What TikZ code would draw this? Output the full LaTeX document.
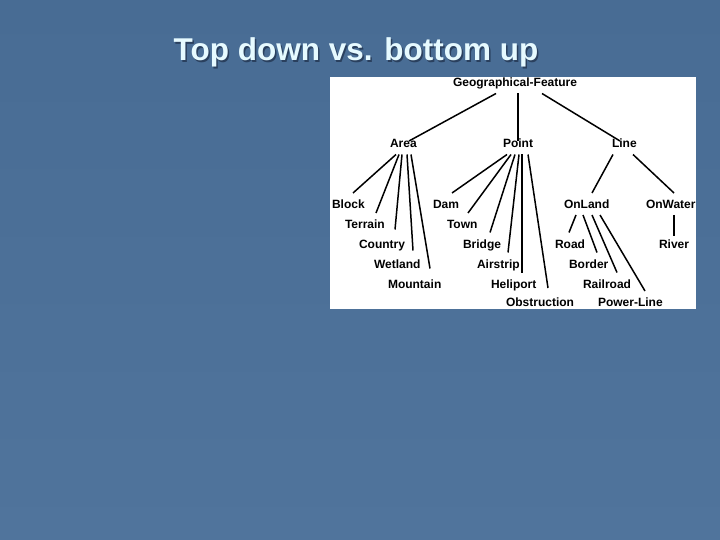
\documentclass[tikz,border=0pt]{standalone}
\usepackage{fontspec}
\setmainfont{Liberation Sans}
\usepackage{xcolor}
\definecolor{Back1}{RGB}{72,108,148}
\definecolor{Back2}{RGB}{80,116,156}
\definecolor{TitleCol}{RGB}{230,250,255}
\definecolor{ShadowCol}{RGB}{42,64,94}
\usepackage{tikz}
\tikzstyle{Leaf}=[anchor=base west,inner xsep=0pt,inner ysep=0pt,outer xsep=0pt,
outer ysep=6.5pt,text height=9pt,text depth=0pt,font=\bfseries\fontsize{12}{14}\selectfont]
\tikzstyle{Edge}=[draw=black,line width=1.5pt]
\tikzstyle{TitleText}=[anchor=base,inner sep=0pt,font=\bfseries\fontsize{31.5}{36}\selectfont]

\begin{document}
\begin{tikzpicture}[x=1pt,y=-1pt]
        \useasboundingbox(0,0)rectangle(720,540);
        \shade[top color=Back1,bottom color=Back2](0,0)rectangle(720,540);
        % title
        \node[TitleText,text=ShadowCol](shadow)at(357.5,62.5){Top down vs. bottom up};
        \node[TitleText,text=TitleCol](title)at(356,61){Top down vs. bottom up};
        % panel
        \fill[white](330,77)rectangle(696,308.5);
        \node[Leaf](gf)at(453,87){Geographical-Feature};
        \node[Leaf](area)at(390,148){Area};
        \node[Leaf](point)at(503,148){Point};
        \node[Leaf](line)at(612,148){Line};
        \node[Leaf](block)at(332,208.5){Block};
        \node[Leaf](terrain)at(345,228.5){Terrain};
        \node[Leaf](country)at(359,248){Country};
        \node[Leaf](wetland)at(374,268){Wetland};
        \node[Leaf](mountain)at(388,288){Mountain};
        \node[Leaf](dam)at(433,208.5){Dam};
        \node[Leaf](town)at(447,228.5){Town};
        \node[Leaf](bridge)at(463,248){Bridge};
        \node[Leaf](airstrip)at(477,268){Airstrip};
        \node[Leaf](heliport)at(491,288){Heliport};
        \node[Leaf](obstruction)at(506,306.5){Obstruction};
        \node[Leaf](onland)at(564,208.5){OnLand};
        \node[Leaf](onwater)at(646,208.5){OnWater};
        \node[Leaf](road)at(555,248){Road};
        \node[Leaf](border)at(569,268){Border};
        \node[Leaf](railroad)at(583,288){Railroad};
        \node[Leaf](powerline)at(598,306.5){Power-Line};
        \node[Leaf](river)at(659,248){River};
        % first level
        \draw[Edge]([xshift=43pt]gf.south west)--([xshift=19pt,yshift=-8.5pt]area.north west);
        \draw[Edge]([xshift=65pt]gf.south west)--([xshift=15pt,yshift=-8.5pt]point.north west);
        \draw[Edge]([xshift=89pt]gf.south west)--([xshift=8pt,yshift=-8.5pt]line.north west);
        % area
        \draw[Edge]([xshift=6pt]area.south west)--([xshift=21pt]block.north west);
        \draw[Edge]([xshift=9pt]area.south west)--([xshift=31pt]terrain.north west);
        \draw[Edge]([xshift=12pt]area.south west)--([xshift=36pt,yshift=3pt]country.north west);
        \draw[Edge]([xshift=17pt]area.south west)--([xshift=39pt,yshift=2pt]wetland.north west);
        \draw[Edge]([xshift=21pt]area.south west)--([xshift=42pt,yshift=4pt]mountain.north west);
        % point
        \draw[Edge]([xshift=4pt]point.south west)--([xshift=19pt]dam.north west);
        \draw[Edge]([xshift=8pt]point.south west)--([xshift=21pt]town.north west);
        \draw[Edge]([xshift=12pt]point.south west)--([xshift=27pt]bridge.north west);
        \draw[Edge]([xshift=16pt]point.south west)--([xshift=31pt]airstrip.north west);
        \draw[Edge]([xshift=19pt]point.south west)--([xshift=31pt]heliport.north west);
        \draw[Edge]([xshift=25pt]point.south west)--([xshift=42pt,yshift=3pt]obstruction.north west);
        % line
        \draw[Edge]([xshift=1pt]line.south west)--([xshift=28pt]onland.north west);
        \draw[Edge]([xshift=21pt]line.south west)--([xshift=28pt]onwater.north west);
        \draw[Edge]([xshift=12pt]onland.south west)--([xshift=14pt]road.north west);
        \draw[Edge]([xshift=19pt]onland.south west)--([xshift=28pt]border.north west);
        \draw[Edge]([xshift=28pt]onland.south west)--([xshift=34pt]railroad.north west);
        \draw[Edge]([xshift=36pt]onland.south west)--([xshift=47pt]powerline.north west);
        \draw[Edge]([xshift=28pt]onwater.south west)--([xshift=15pt,yshift=-3pt]river.north west);
    \end{tikzpicture}
\end{document}
